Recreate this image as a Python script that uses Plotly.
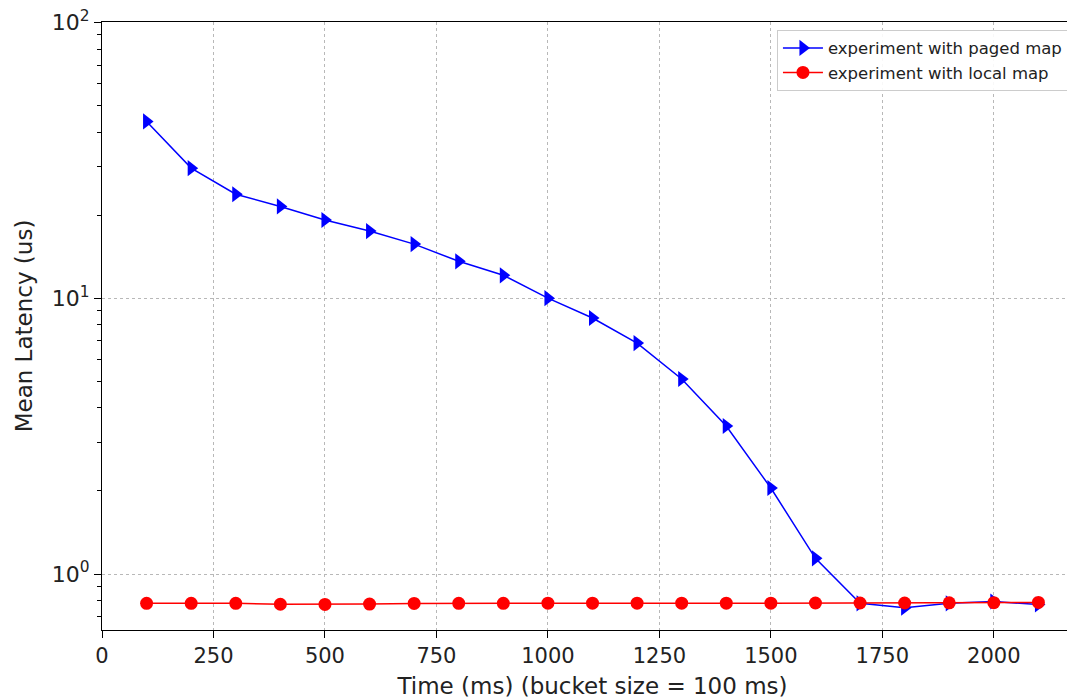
import plotly.graph_objects as go

time_ms = [100, 200, 300, 400, 500, 600, 700, 800, 900, 1000, 1100,
           1200, 1300, 1400, 1500, 1600, 1700, 1800, 1900, 2000, 2100]
paged_latency = [43.7, 29.6, 23.8, 21.5, 19.2, 17.5, 15.7, 13.6, 12.1, 10.0, 8.47,
                 6.87, 5.09, 3.44, 2.05, 1.14, 0.783, 0.755, 0.783, 0.795, 0.775]
local_latency = [0.783, 0.783, 0.783, 0.777, 0.776, 0.778, 0.782, 0.783, 0.783, 0.784, 0.784,
                 0.784, 0.784, 0.784, 0.784, 0.785, 0.785, 0.785, 0.786, 0.787, 0.789]
x_ticks = [0, 250, 500, 750, 1000, 1250, 1500, 1750, 2000]
y_ticks = [1, 10, 100]
y_tick_text = ["10<sup>0</sup>", "10<sup>1</sup>", "10<sup>2</sup>"]
y_minor_ticks = [0.7, 0.8, 0.9, 2, 3, 4, 5, 6, 7, 8, 9, 20, 30, 40, 50, 60, 70, 80, 90]

font = "DejaVu Sans, sans-serif"

fig = go.Figure()
fig.add_trace(go.Scatter(
    x=time_ms, y=paged_latency, mode="lines+markers",
    name="experiment with paged map",
    line=dict(color="#0000ff", width=1.5),
    marker=dict(symbol="triangle-right", size=14, color="#0000ff"),
))
fig.add_trace(go.Scatter(
    x=time_ms, y=local_latency, mode="lines+markers",
    name="experiment with local map",
    line=dict(color="#ff0000", width=1.5),
    marker=dict(symbol="circle", size=13, color="#ff0000"),
))

fig.update_layout(
    width=1075, height=700,
    margin=dict(l=94, r=0, t=14, b=78, autoexpand=False),
    plot_bgcolor="white", paper_bgcolor="white",
    font=dict(family=font, color="#222222"),
    showlegend=True,
    legend=dict(
        xref="container", yref="container",
        x=0.986, y=0.969, xanchor="right", yanchor="top",
        bgcolor="rgba(255,255,255,0.9)", bordercolor="#cccccc", borderwidth=1,
        font=dict(size=16.5, family=font),
        itemwidth=40,
        tracegroupgap=5,
    ),
)
fig.update_xaxes(
    range=[0, 2200],
    tickvals=x_ticks,
    ticks="outside", ticklen=7, tickwidth=1.2, tickcolor="black",
    tickfont=dict(size=21, family=font),
    showline=True, linecolor="black", linewidth=1.3, mirror=True,
    showgrid=True, gridcolor="#b8b8b8", griddash="3px,3px", gridwidth=1,
    zeroline=False, automargin=False,
    title=dict(text="Time (ms) (bucket size = 100 ms)", font=dict(size=23, family=font), standoff=10),
)
fig.update_yaxes(
    type="log",
    range=[-0.203, 2.001],
    tickvals=y_ticks, ticktext=y_tick_text,
    ticks="outside", ticklen=7, tickwidth=1.2, tickcolor="black",
    tickfont=dict(size=22, family=font),
    ticklabeloverflow="allow",
    showline=True, linecolor="black", linewidth=1.3,
    showgrid=True, gridcolor="#b8b8b8", griddash="3px,3px", gridwidth=1,
    zeroline=False, automargin=False,
    minor=dict(tickvals=y_minor_ticks, ticks="outside", ticklen=4, tickcolor="black", showgrid=False),
    title=dict(text="Mean Latency (us)", font=dict(size=23, family=font), standoff=12),
)

fig.write_html("out.html")
